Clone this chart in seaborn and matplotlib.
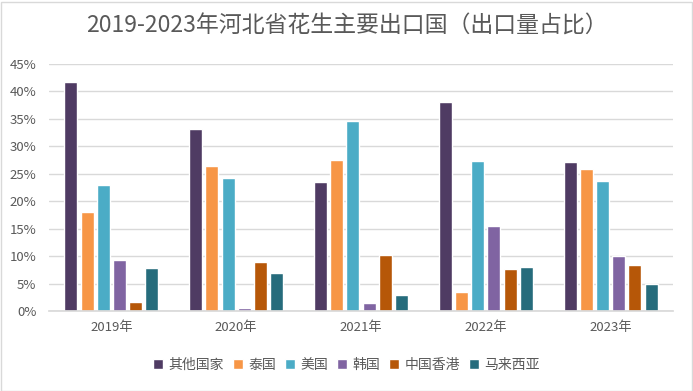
import matplotlib
matplotlib.use("Agg")
import matplotlib.pyplot as plt
import seaborn as sns
import pandas as pd
from matplotlib.patches import Rectangle
from matplotlib.ticker import FuncFormatter

years = ["2019年", "2020年", "2021年", "2022年", "2023年"]
countries = ["其他国家", "泰国", "美国", "韩国", "中国香港", "马来西亚"]
other = [41.7, 33.1, 23.5, 38.0, 27.1]
thailand = [18.0, 26.4, 27.5, 3.4, 25.8]
usa = [22.9, 24.2, 34.6, 27.3, 23.7]
korea = [9.3, 0.5, 1.4, 15.5, 10.0]
hongkong = [1.6, 9.0, 10.2, 7.6, 8.4]
malaysia = [7.8, 6.9, 2.9, 8.0, 4.9]
series = [other, thailand, usa, korea, hongkong, malaysia]
colors = ["#4F3B63", "#F79646", "#4BACC6", "#8064A2", "#B65708", "#266C7C"]
title = "2019-2023年河北省花生主要出口国（出口量占比）"

rows = []
for c, vals in zip(countries, series):
    for y, v in zip(years, vals):
        rows.append({"year": y, "country": c, "value": v / 100})
df = pd.DataFrame(rows)

sns.set_theme(style="white")
plt.rcParams["font.family"] = ["Noto Sans CJK SC", "DejaVu Sans"]
text_color = "#595959"

fig = plt.figure(figsize=(6.93, 3.91), dpi=100)
ax = fig.add_axes([49 / 693, 1 - 311 / 391, 624 / 693, 247 / 391])
sns.barplot(data=df, x="year", y="value", hue="country", order=years,
            hue_order=countries, palette=colors, width=0.78, gap=0.2,
            saturation=1, ax=ax, errorbar=None)
ax.set_ylim(0, 0.45)
ax.set_yticks([i * 0.05 for i in range(10)])
ax.yaxis.set_major_formatter(FuncFormatter(lambda v, p: f"{round(v * 100)}%"))
ax.grid(axis="y", color="#D9D9D9", linewidth=1)
ax.set_axisbelow(True)
for s in ["top", "right", "left"]:
    ax.spines[s].set_visible(False)
ax.spines["bottom"].set_color("#D9D9D9")
ax.tick_params(axis="y", length=0, pad=9, labelsize=9.5, labelcolor=text_color)
ax.tick_params(axis="x", length=0, pad=7, labelsize=9.5, labelcolor=text_color)
ax.set_xlabel("")
ax.set_ylabel("")
ax.set_xlim(-0.5, 4.5)

handles, labels = ax.get_legend_handles_labels()
ax.legend_.remove()
fig.legend(handles, labels, loc="center", bbox_to_anchor=(0.5, 1 - 365 / 391),
           ncol=6, frameon=False, fontsize=10, labelcolor=text_color,
           handlelength=0.75, handleheight=0.75, handletextpad=0.4,
           columnspacing=0.6)

fig.text(0.5, 1 - 26 / 391, title, ha="center", va="center",
         fontsize=16.5, color=text_color)

fig.patches.append(Rectangle((0.5 / 693, 0.5 / 391), 691 / 693, 389 / 391,
                             transform=fig.transFigure, fill=False,
                             edgecolor="#D9D9D9", linewidth=1))
fig.savefig("out.png", dpi=100)
